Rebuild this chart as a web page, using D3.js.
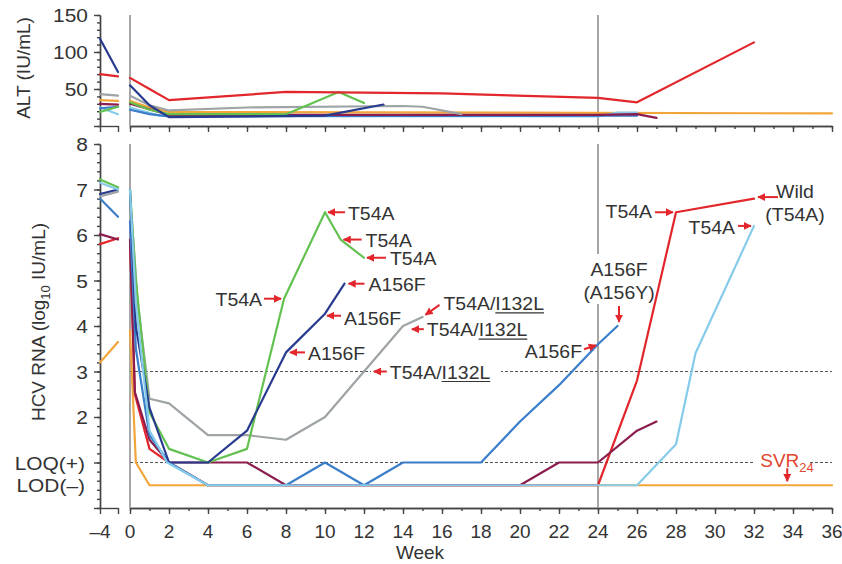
<!DOCTYPE html>
<html>
<head>
<meta charset="utf-8">
<script src="https://cdn.jsdelivr.net/npm/d3@7/dist/d3.min.js"></script>
<style>
  body { margin: 0; background: #fff; }
  svg text { font-family: "Liberation Sans", Arial, sans-serif; fill: #333; }
  .axis path, .axis line { stroke: #444; stroke-width: 1.4; }
</style>
</head>
<body>
<svg id="chart" width="842" height="564"></svg>
<script>
// ---- values ----
var weekLabels = d3.range(0, 37, 2);
var altLabels = [50, 100, 150];
var rnaLabels = [2, 3, 4, 5, 6, 7, 8];
var LOQ = 1, LOD = 0.5;

// HCV RNA (log10 IU/mL), [week, value]; pre = before treatment (week -4 .. -1)
var rnaPreOrange = [[-4, 3.2], [-1, 3.65]];
var rnaOrange = [[0, 3.9], [0.3, 1.0], [1, 0.5], [36, 0.5]];
var rnaPreRed = [[-4, 5.8], [-1, 5.93]];
var rnaRed = [[0, 5.9], [0.25, 2.5], [1, 1.3], [2, 1.0], [4, 0.5], [24, 0.5], [26, 2.8], [28, 6.5], [32, 6.8]];
var rnaPreMaroon = [[-4, 6.02], [-1, 5.9]];
var rnaMaroon = [[0, 5.9], [0.25, 2.55], [1, 1.5], [2, 1.0], [6, 1.0], [8, 0.5], [20, 0.5], [22, 1.0], [24, 1.0], [26, 1.7], [27, 1.9]];
var rnaPreBlue = [[-4, 6.8], [-1, 6.4]];
var rnaBlue = [[0, 6.3], [0.3, 3.5], [1, 1.6], [2, 1.0], [4, 0.5], [8, 0.5], [10, 1.0], [12, 0.5], [14, 1.0], [18, 1.0], [20, 1.9], [22, 2.7], [24, 3.6], [25, 4.0]];
var rnaPreGrey = [[-4, 6.85], [-1, 6.95]];
var rnaGrey = [[0, 6.9], [0.4, 4.5], [1, 2.4], [2, 2.3], [4, 1.6], [6, 1.6], [8, 1.5], [10, 2.0], [14, 4.0], [15, 4.2]];
var rnaPreGreen = [[-4, 7.22], [-1, 7.05]];
var rnaGreen = [[0, 7.0], [0.3, 5.0], [1, 2.1], [2, 1.3], [4, 1.0], [6, 1.3], [7.9, 4.6], [10, 6.5], [10.8, 5.9], [12, 5.5]];
var rnaPreNavy = [[-4, 6.9], [-1, 7.0]];
var rnaNavy = [[0, 7.0], [0.3, 4.0], [1, 2.2], [2, 1.0], [4, 1.0], [6, 1.7], [8, 3.42], [10, 4.27], [11, 4.93]];
var rnaPreSky = [[-4, 7.15], [-1, 7.0]];
var rnaSky = [[0, 7.0], [0.3, 4.5], [1, 1.7], [1.9, 1.0], [4, 0.5], [26, 0.5], [28, 1.4], [29, 3.4], [32, 6.2]];

// ALT (IU/mL), [week, value]
var altPreOrange = [[-4, 35], [-1, 34]];
var altOrange = [[0, 34], [1, 25], [2, 19], [36, 17]];
var altPreRed = [[-4, 70], [-1, 67]];
var altRed = [[0, 65], [1, 50], [2, 35], [8, 46], [16, 44], [24, 38], [26, 32], [32, 113]];
var altPreMaroon = [[-4, 30], [-1, 29]];
var altMaroon = [[0, 30], [2, 15], [24, 15], [26, 16], [27, 11]];
var altPreBlue = [[-4, 24], [-1, 26]];
var altBlue = [[0, 22], [1, 16], [2, 13], [26, 14]];
var altPreGrey = [[-4, 43], [-1, 41]];
var altGrey = [[0, 41], [1, 28], [2, 21], [6, 25], [14, 27], [15, 26], [17, 16]];
var altPreGreen = [[-4, 19], [-1, 26]];
var altGreen = [[0, 32], [1, 22], [2, 16], [8, 16], [10.7, 46], [12, 31]];
var altPreNavy = [[-4, 118], [-1, 73]];
var altNavy = [[0, 55], [1, 28], [2, 12], [10, 14], [13, 29]];
var altPreSky = [[-4, 25], [-1, 16]];
var altSky = [[0, 25], [1.5, 14], [24, 13], [25, 18], [26, 18]];

var series = [
  {name: "orange", color: "#f2a53a", rna: rnaOrange, rnaPre: rnaPreOrange, alt: altOrange, altPre: altPreOrange},
  {name: "red",    color: "#e2262b", rna: rnaRed,    rnaPre: rnaPreRed,    alt: altRed,    altPre: altPreRed},
  {name: "maroon", color: "#8b1d4e", rna: rnaMaroon, rnaPre: rnaPreMaroon, alt: altMaroon, altPre: altPreMaroon},
  {name: "blue",   color: "#3a7dc9", rna: rnaBlue,   rnaPre: rnaPreBlue,   alt: altBlue,   altPre: altPreBlue},
  {name: "grey",   color: "#9ea3a6", rna: rnaGrey,   rnaPre: rnaPreGrey,   alt: altGrey,   altPre: altPreGrey},
  {name: "green",  color: "#62c14f", rna: rnaGreen,  rnaPre: rnaPreGreen,  alt: altGreen,  altPre: altPreGreen},
  {name: "navy",   color: "#283a8e", rna: rnaNavy,   rnaPre: rnaPreNavy,   alt: altNavy,   altPre: altPreNavy},
  {name: "sky",    color: "#86cbe9", rna: rnaSky,    rnaPre: rnaPreSky,    alt: altSky,    altPre: altPreSky}
];
var altOrder = ["orange", "sky", "blue", "maroon", "grey", "green", "navy", "red"];

// ---- scales ----
var svg = d3.select("#chart");
var x = d3.scaleLinear().domain([0, 36]).range([130, 832]);
var xPre = d3.scaleLinear().domain([-4, -1]).range([100, 118]);
var yAlt = d3.scaleLinear().domain([0, 150]).range([126, 15]);
var yRna = d3.scaleLinear().domain([0, 8]).range([508, 144]);
var red = "#e2262b";

svg.append("defs").append("marker")
  .attr("id", "head").attr("viewBox", "0 0 10 10")
  .attr("refX", 9).attr("refY", 5)
  .attr("markerWidth", 8).attr("markerHeight", 8)
  .attr("markerUnits", "userSpaceOnUse").attr("orient", "auto")
  .append("path").attr("d", "M0,0 L10,5 L0,10 z").attr("fill", red);

// ---- axes ----
function yAxis(scale, minor, major) {
  var g = svg.append("g").attr("class", "axis").attr("transform", "translate(100,0)");
  g.call(d3.axisLeft(scale).tickValues(minor).tickSize(3).tickSizeOuter(0).tickFormat(""));
  g.append("g").call(d3.axisLeft(scale).tickValues(major).tickSize(6).tickSizeOuter(0).tickFormat(""));
  return g;
}
yAxis(yAlt, d3.range(0, 151, 10), [0, 50, 100, 150]);
yAxis(yRna, d3.range(0, 8.01, 0.2), d3.range(0, 9, 1));

function xAxis(yPos) {
  var g = svg.append("g").attr("class", "axis").attr("transform", "translate(0," + yPos + ")");
  g.append("g").call(d3.axisBottom(x).tickValues(d3.range(0, 37, 1)).tickSize(3).tickSizeOuter(0).tickFormat(""));
  g.append("g").call(d3.axisBottom(x).tickValues(weekLabels).tickSize(6).tickSizeOuter(0).tickFormat(""));
  g.append("g").call(d3.axisBottom(xPre).tickValues([-4, -1]).tickSize(6).tickSizeOuter(0).tickFormat(""));
}
xAxis(yAlt(0));
xAxis(yRna(0));

// tick labels
svg.selectAll(".altlab").data(altLabels).enter().append("text")
  .attr("class", "altlab")
  .attr("transform", function(d) { return "translate(88," + (yAlt(d) + 7) + ") scale(1.1,1)"; })
  .attr("text-anchor", "end").style("font-size", "19px")
  .text(function(d) { return d; });
svg.selectAll(".rnalab").data(rnaLabels).enter().append("text")
  .attr("class", "rnalab")
  .attr("transform", function(d) { return "translate(88," + (yRna(d) + 7) + ") scale(1.1,1)"; })
  .attr("text-anchor", "end").style("font-size", "19px")
  .text(function(d) { return d; });
svg.selectAll(".limlab").data([[LOQ, "LOQ(+)"], [LOD, "LOD(\u2013)"]]).enter().append("text")
  .attr("class", "limlab")
  .attr("transform", function(d) { return "translate(85," + (yRna(d[0]) + 7) + ") scale(1.1,1)"; })
  .attr("text-anchor", "end").style("font-size", "19px")
  .text(function(d) { return d[1]; });
svg.selectAll(".wklab").data(weekLabels).enter().append("text")
  .attr("class", "wklab")
  .attr("x", function(d) { return x(d); }).attr("y", 538)
  .attr("text-anchor", "middle").style("font-size", "19px")
  .text(function(d) { return d; });
svg.append("text").attr("x", xPre(-4)).attr("y", 538)
  .attr("text-anchor", "middle").style("font-size", "19px").text("\u20134");

// axis titles
svg.append("text").attr("x", 420).attr("y", 559).attr("text-anchor", "middle")
  .style("font-size", "19px").text("Week");
svg.append("text").attr("transform", "translate(30,68) rotate(-90)")
  .attr("text-anchor", "middle").style("font-size", "19px").text("ALT (IU/mL)");
var tt = svg.append("text").attr("transform", "translate(45,322) rotate(-90)")
  .attr("text-anchor", "middle").style("font-size", "19px");
tt.append("tspan").text("HCV RNA (log");
tt.append("tspan").attr("dy", 5).style("font-size", "13px").text("10");
tt.append("tspan").attr("dy", -5).text(" IU/mL)");

// ---- reference lines ----
[0, 24].forEach(function(w) {
  svg.append("line").attr("x1", x(w)).attr("x2", x(w)).attr("y1", yAlt(150)).attr("y2", yAlt(0))
    .attr("stroke", "#8a8a8a").attr("stroke-width", 1.5);
  svg.append("line").attr("x1", x(w)).attr("x2", x(w)).attr("y1", yRna(8)).attr("y2", yRna(0))
    .attr("stroke", "#8a8a8a").attr("stroke-width", 1.5);
});
[3, LOQ].forEach(function(v) {
  svg.append("line").attr("x1", x(0)).attr("x2", x(36)).attr("y1", yRna(v)).attr("y2", yRna(v))
    .attr("stroke", "#555").attr("stroke-width", 1).attr("stroke-dasharray", "3,2");
});

// white patches behind labels that interrupt the grid lines
var masks = [[371, 362, 130, 20], [586, 254, 66, 50], [754, 448, 56, 24]];
svg.selectAll(".mask").data(masks).enter().append("rect")
  .attr("class", "mask")
  .attr("x", function(d) { return d[0]; }).attr("y", function(d) { return d[1]; })
  .attr("width", function(d) { return d[2]; }).attr("height", function(d) { return d[3]; })
  .attr("fill", "#fff");

// ---- data lines ----
var lineAlt = d3.line().x(function(d) { return x(d[0]); }).y(function(d) { return yAlt(d[1]); });
var lineAltPre = d3.line().x(function(d) { return xPre(d[0]); }).y(function(d) { return yAlt(d[1]); });
var lineRna = d3.line().x(function(d) { return x(d[0]); }).y(function(d) { return yRna(d[1]); });
var lineRnaPre = d3.line().x(function(d) { return xPre(d[0]); }).y(function(d) { return yRna(d[1]); });

var gLines = svg.append("g").attr("fill", "none").attr("stroke-width", 2.2)
  .attr("stroke-linejoin", "round").attr("stroke-linecap", "round");
altOrder.forEach(function(n) {
  var s = series.find(function(d) { return d.name === n; });
  gLines.append("path").attr("d", lineAltPre(s.altPre)).attr("stroke", s.color);
  gLines.append("path").attr("d", lineAlt(s.alt)).attr("stroke", s.color);
});
series.forEach(function(s) {
  gLines.append("path").attr("d", lineRnaPre(s.rnaPre)).attr("stroke", s.color);
  gLines.append("path").attr("d", lineRna(s.rna)).attr("stroke", s.color);
});

// ---- annotations: tip on the data, arrow tail/head and text offsets in px ----
var notes = [
  {w: 10,   v: 6.5,  h: [3, 0],    t: [20, 0],   p: [23, 1],    a: "start", lines: ["T54A"]},
  {w: 10.8, v: 5.9,  h: [3, 0],    t: [21, 0],   p: [25, 0],    a: "start", lines: ["T54A"]},
  {w: 12,   v: 5.5,  h: [3, 0],    t: [22, 0],   p: [26, 0],    a: "start", lines: ["T54A"]},
  {w: 7.9,  v: 4.6,  h: [-3, 0],   t: [-20, 0],  p: [-22, 0],   a: "end",   lines: ["T54A"]},
  {w: 11,   v: 4.93, h: [4, 0],    t: [20, 0],   p: [24, 0],    a: "start", lines: ["A156F"]},
  {w: 10,   v: 4.27, h: [2, 2],    t: [16, 2],   p: [19, 4],    a: "start", lines: ["A156F"]},
  {w: 8,    v: 3.42, h: [4, 0],    t: [19, 0],   p: [22, 1],    a: "start", lines: ["A156F"]},
  {w: 15,   v: 4.2,  h: [3, -2],   t: [17, -12], p: [21, -14],  a: "start", lines: ["T54A/|I132L"]},
  {w: 14.3, v: 3.93, h: [3, 0],    t: [15, 0],   p: [18, 0],    a: "start", lines: ["T54A/|I132L"]},
  {w: 12.4, v: 3.0,  h: [2, 0],    t: [15, 0],   p: [18, 0],    a: "start", lines: ["T54A/|I132L"]},
  {w: 24,   v: 3.6,  h: [-2, 1],   t: [-14, 5],  p: [-16, 7],   a: "end",   lines: ["A156F"]},
  {w: 25,   v: 4.0,  h: [1.5, -4], t: [1.5, -20], p: [1.5, -57], a: "middle", lines: ["A156F", "(A156Y)"]},
  {w: 28,   v: 6.5,  h: [-3, 0],   t: [-21, 0],  p: [-24, -1],  a: "end",   lines: ["T54A"]},
  {w: 32,   v: 6.2,  h: [-3, 0],   t: [-16, 0],  p: [-19, 1],   a: "end",   lines: ["T54A"]},
  {w: 32,   v: 6.8,  h: [4, -1.5], t: [24, -1.5], p: [41, -8],  a: "middle", lines: ["Wild", "(T54A)"]}
];

var gNotes = svg.append("g");
notes.forEach(function(n) {
  var px = x(n.w), py = yRna(n.v);
  gNotes.append("line")
    .attr("x1", px + n.t[0]).attr("y1", py + n.t[1])
    .attr("x2", px + n.h[0]).attr("y2", py + n.h[1])
    .attr("stroke", red).attr("stroke-width", 2).attr("marker-end", "url(#head)");
  n.lines.forEach(function(line, i) {
    var g = gNotes.append("g")
      .attr("transform", "translate(" + (px + n.p[0]) + "," + (py + n.p[1] + 7 + i * 23) + ") scale(1.08,1)");
    var parts = line.split("|");
    var txt = g.append("text").attr("text-anchor", n.a).style("font-size", "18px").text(parts.join(""));
    if (parts.length > 1) {
      // underline the second part (the I132L substitution)
      var node = txt.node();
      var k = parts[0].length;
      var x0 = node.getStartPositionOfChar(k).x;
      var x1 = node.getEndPositionOfChar(node.getNumberOfChars() - 1).x;
      g.append("line").attr("x1", x0).attr("x2", x1).attr("y1", 3).attr("y2", 3)
        .attr("stroke", "#333").attr("stroke-width", 1.2);
    }
  });
});

// SVR24 label
var svrX = x(33.5), svrY = yRna(LOD);
gNotes.append("line")
  .attr("x1", svrX + 4).attr("y1", svrY - 17).attr("x2", svrX + 4).attr("y2", svrY - 4)
  .attr("stroke", red).attr("stroke-width", 2).attr("marker-end", "url(#head)");
var svr = gNotes.append("text").attr("x", svrX - 23).attr("y", svrY - 18)
  .style("font-size", "19px").style("fill", "#e0452e");
svr.append("tspan").text("SVR");
svr.append("tspan").attr("dy", 5).style("font-size", "13px").text("24");
</script>
</body>
</html>
